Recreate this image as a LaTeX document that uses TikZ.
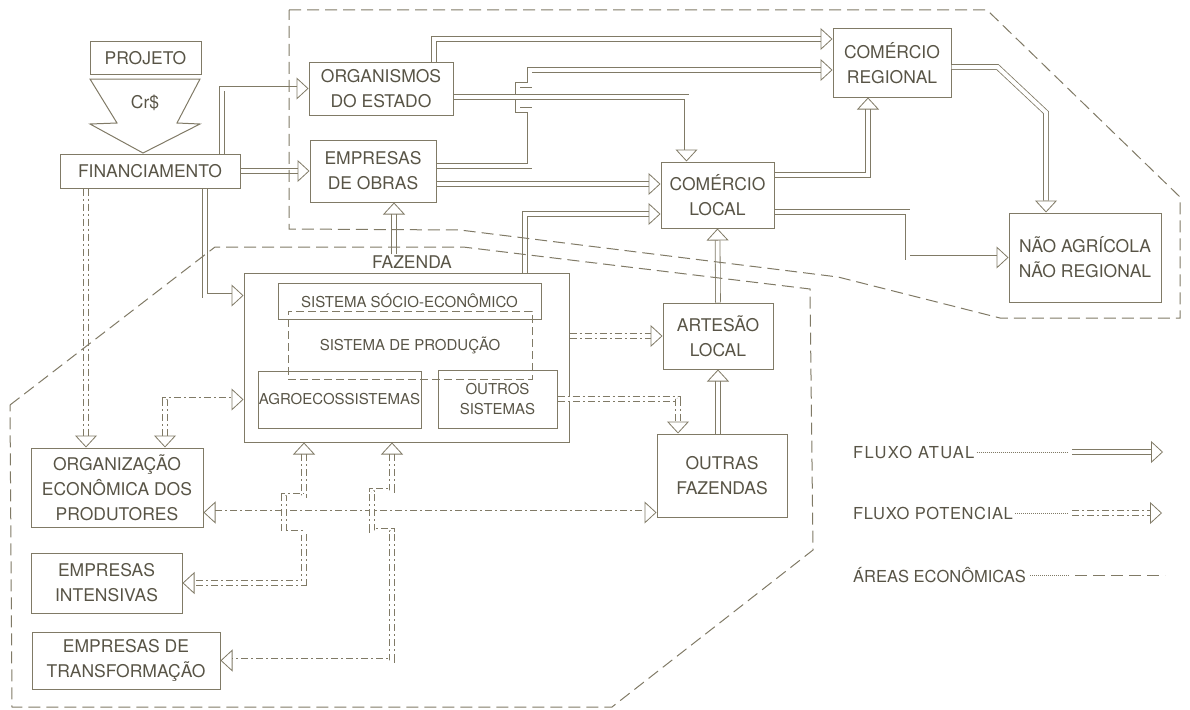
\documentclass[tikz,border=0pt]{standalone}
\usepackage{fontspec}
\setmainfont{TeX Gyre Heros}
\usepackage{tikz}
\usetikzlibrary{arrows.meta,calc}
\definecolor{inkline}{RGB}{128,122,102}
\definecolor{inktext}{RGB}{88,84,70}
\newcommand{\bigfont}{\fontsize{17.5}{25}\selectfont}
\newcommand{\midfont}{\fontsize{15}{20}\selectfont}
\newcommand{\legfont}{\fontsize{16.5}{18}\selectfont}
\tikzset{
  blk/.style     = {draw=inkline, line width=1pt, text=inktext, align=center,
                    inner sep=0pt, font=\bigfont},
  subblk/.style  = {blk, font=\midfont},
  prodblk/.style = {subblk, dash pattern=on 8pt off 4pt},
  lbl/.style     = {text=inktext, inner sep=1pt, font=\bigfont},
  flow/.style    = {draw=inkline, line width=0.8pt, double=white, double distance=4pt,
                    >={Triangle[open, width=22pt, length=12pt, line width=0.8pt]}},
  pflow/.style   = {flow, dash pattern=on 7pt off 3pt on 2pt off 3pt},
  area/.style    = {draw=inkline, line width=1pt, dash pattern=on 12pt off 6pt},
  leader/.style  = {draw=inkline, line width=0.5pt, dash pattern=on 0.8pt off 1.2pt},
  legtext/.style = {text=inktext, font=\legfont, inner sep=0pt, anchor=base west}
}

\begin{document}
\begin{tikzpicture}[x=1pt, y=-1pt]
  \useasboundingbox (0,0) rectangle (1190,709);
  % Project and funding
  \node[blk, minimum width=111, minimum height=32] (proj) at (145.5,58) {PROJETO};
  \draw[blk] (90,79) -- (200,79) -- (177,123) -- (200,124) -- (143,153)
             -- (90,124) -- (117,123) -- cycle;
  \node[lbl] (crs) at (145,103) {Cr\$};
  \node[blk, minimum width=180, minimum height=34] (fin) at (150,171) {FINANCIAMENTO};
  % Upper area
  \node[blk, minimum width=144, minimum height=53] (org)   at (381,88.5)  {ORGANISMOS\\DO ESTADO};
  \node[blk, minimum width=126, minimum height=62] (obras) at (373,171)   {EMPRESAS\\DE OBRAS};
  \node[blk, minimum width=118, minimum height=68] (cr)    at (892,63)    {COMÉRCIO\\REGIONAL};
  \node[blk, minimum width=113, minimum height=66] (cl)    at (717.5,195) {COMÉRCIO\\LOCAL};
  \node[blk, minimum width=152, minimum height=89] (nao)   at (1085,257.5){NÃO AGRÍCOLA\\NÃO REGIONAL};
  % Farm
  \node[lbl] (fazlbl) at (412,262) {FAZENDA};
  \node[blk, minimum width=325, minimum height=169] (faz) at (406.5,357.5) {};
  \node[subblk,  minimum width=263, minimum height=36] (socio)  at (409.5,301) {SISTEMA SÓCIO-ECONÔMICO};
  \node[prodblk, minimum width=244, minimum height=68] (prod)   at (410,345)   {SISTEMA DE PRODUÇÃO};
  \node[subblk,  minimum width=163, minimum height=57] (agro)   at (339.5,399.5) {AGROECOSSISTEMAS};
  \node[subblk,  minimum width=119, minimum height=58] (outros) at (497.5,399) {OUTROS\\SISTEMAS};
  \node[blk, minimum width=110, minimum height=66] (art)  at (718,336)   {ARTESÃO\\LOCAL};
  \node[blk, minimum width=130, minimum height=83] (ofaz) at (722,475.5) {OUTRAS\\FAZENDAS};
  % Lower left
  \node[blk, minimum width=172, minimum height=79] (econ) at (117,487.5) {ORGANIZAÇÃO\\ECONÔMICA DOS\\PRODUTORES};
  \node[blk, minimum width=151, minimum height=60] (ei)   at (106.5,583) {EMPRESAS\\INTENSIVAS};
  \node[blk, minimum width=188, minimum height=57] (et)   at (126,660.5) {EMPRESAS DE\\TRANSFORMAÇÃO};
  % Actual flows
  \draw[flow,->] ($(fin.north)+(72,0)$) |- (org.west);
  \draw[flow,->] (fin.east) -- (obras.west);
  \draw[flow,->] ($(fin.south)+(55,0)$) |- ($(faz.west)+(0,-62)$);
  \draw[flow,->] ($(fazlbl.north)+(-18,0)$) -- ($(obras.south)+(21,0)$);
  \draw[flow,->] ($(org.north)+(53,0)$) |- ($(cr.west)+(0,-24)$);
  \draw[flow,->] ($(obras.east)+(0,-5)$) -- ++(93,0) -- ++(0,-56) -- ++(-12,0)
                 -- ++(0,-25) -- ++(12,0) |- ($(cr.west)+(0,7)$);
  \draw[flow,->] ($(org.east)+(0,8.5)$) -| ($(cl.north)+(-31,0)$);
  \draw[flow,->] ($(obras.east)+(0,13)$) -- ($(cl.west)+(0,-11)$);
  \draw[flow,->] ($(faz.north)+(118.5,0)$) |- ($(cl.west)+(0,19)$);
  \draw[flow,->] ($(cl.east)+(0,-20)$) -| ($(cr.south)+(-24,0)$);
  \draw[flow,->] ($(cl.east)+(0,17)$) -- ++(133,0) |- (nao.west);
  \draw[flow,->] ($(cr.east)+(0,4)$) -- ++(46,0) -- ($(nao.north)+(-39,-100)$)
                 -- ($(nao.north)+(-39,0)$);
  \draw[flow,->] (art.north) -- (cl.south);
  \draw[flow,->] (ofaz.north -| art.south) -- (art.south);
  % Potential flows
  \draw[pflow,->]  ($(fin.south)+(-64,0)$) -- ($(econ.north)+(-31,0)$);
  \draw[pflow,<->] ($(econ.north)+(48,0)$) |- (agro.west -| faz.west);
  \draw[pflow,->]  (faz.east |- art.west) -- (art.west);
  \draw[pflow,->]  (outros.east) -| ($(ofaz.north)+(-44,0)$);
  \draw[pflow,<->] ($(econ.east)+(0,25)$) -- ($(ofaz.west)+(0,37)$);
  \draw[pflow,<->] ($(faz.south)+(-102.5,0)$) -- ++(0,53) -- ++(-20,0) -- ++(0,37)
                   -- ++(20,0) |- (ei.east);
  \draw[pflow,<->] ($(faz.south)+(-14.5,0)$) -- ++(0,48) -- ++(-20,0) -- ++(0,40)
                   -- ++(20,0) |- (et.east);
  % Economic areas
  \draw[area] (289,10) -- (987,10) -- (1180,197) -- (1180,318) -- (1000,318)
              -- (838,277) -- (460,230) -- (289,229) -- cycle;
  \draw[area] (10,405) -- (215,247) -- (463,247) -- (810,289) -- (813,550)
              -- (612,707) -- (12,707) -- cycle;
  % Legend
  \node[legtext] (legA) at (853,458) {\addfontfeature{LetterSpace=8}FLUXO ATUAL};
  \node[legtext] (legP) at (853,519) {\addfontfeature{LetterSpace=4}FLUXO POTENCIAL};
  \node[legtext] (legE) at (853,582) {ÁREAS ECONÔMICAS};
  \coordinate (legA1) at (1072,452); \coordinate (legA2) at (1163,452);
  \coordinate (legP1) at (1072,513); \coordinate (legP2) at (1162,513);
  \coordinate (legE1) at (1075,575); \coordinate (legE2) at (1165,575);
  \draw[leader] ($(legA.east |- legA1)+(2,0)$) -- ($(legA1)+(-4,0)$);
  \draw[leader] ($(legP.east |- legP1)+(2,0)$) -- ($(legP1)+(-4,0)$);
  \draw[leader] ($(legE.east |- legE1)+(4,0)$) -- ($(legE1)+(-6,0)$);
  \draw[flow,->]  (legA1) -- (legA2);
  \draw[pflow,->] (legP1) -- (legP2);
  \draw[area] (legE1) -- (legE2);
\end{tikzpicture}
\end{document}
